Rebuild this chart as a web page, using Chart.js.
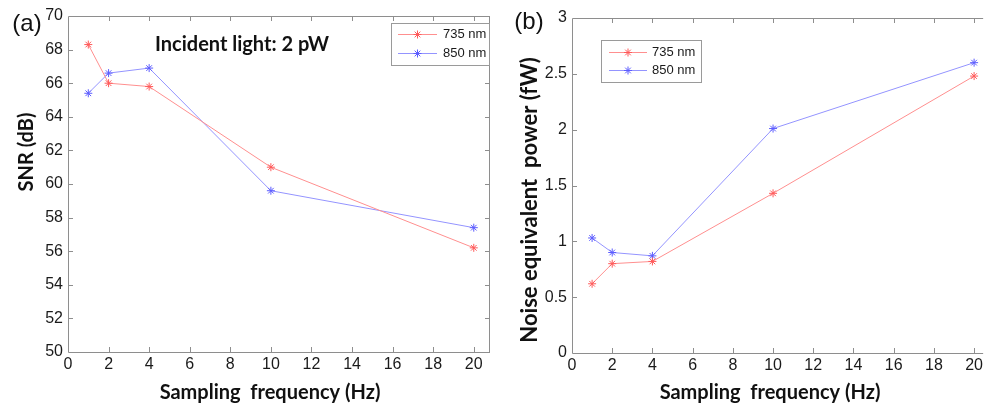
<!DOCTYPE html>
<html>
<head>
<meta charset="utf-8">
<title>SNR and NEP vs sampling frequency</title>
<script src="https://cdn.jsdelivr.net/npm/chart.js"></script>
<style>
  body { margin: 0; background: #fff; }
  #wrap { position: relative; width: 986px; height: 410px; overflow: hidden; }
  #wrap canvas { position: absolute; top: 0; }
</style>
</head>
<body>
<div id="wrap">
  <canvas id="snrChart" width="500" height="410" style="left:0"></canvas>
  <canvas id="nepChart" width="491" height="410" style="left:495px"></canvas>
</div>
<script>
// measured points, both wavelengths
const freqs = [1, 2, 4, 10, 20];
const seriesNames = ['735 nm', '850 nm'];
const snr735 = [68.3, 66.0, 65.8, 61.0, 56.2];
const snr850 = [65.4, 66.6, 66.9, 59.6, 57.4];
const nep735 = [0.62, 0.80, 0.82, 1.43, 2.48];
const nep850 = [1.03, 0.90, 0.87, 2.01, 2.60];

// axis ticks
const freqTicks = [0, 2, 4, 6, 8, 10, 12, 14, 16, 18, 20];
const snrTicks = [50, 52, 54, 56, 58, 60, 62, 64, 66, 68, 70];
const nepTicks = [0, 0.5, 1, 1.5, 2, 2.5, 3];

const RED_LINE = '#ff8f8f', RED_MARK = '#ff5a5a';
const BLUE_LINE = '#9494ff', BLUE_MARK = '#5c5cff';
const AXIS = '#8e8e8e';
const TICK_FONT = { family: 'Liberation Sans, Arial, sans-serif', size: 16 };
const TITLE_FONT = 'bold 20px Lato, Calibri, sans-serif';

function points(ys) {
  return freqs.map((f, i) => ({ x: f, y: ys[i] }));
}

function makeSet(label, ys, line, mark) {
  return {
    label: label,
    data: points(ys),
    borderColor: line,
    borderWidth: 1,
    pointStyle: 'star',
    pointRadius: 4,
    pointBorderColor: mark,
    pointBorderWidth: 1,
    pointBackgroundColor: mark,
    tension: 0
  };
}

// box with inward tick marks (MATLAB style)
const frame = {
  id: 'frame',
  beforeDatasetsDraw(chart, args, opts) {
    const { ctx, chartArea: a, scales } = chart;
    ctx.save();
    ctx.strokeStyle = AXIS;
    ctx.lineWidth = 1;
    ctx.beginPath();
    ctx.moveTo(a.right, a.top + 0.5);
    ctx.lineTo(a.left + 0.5, a.top + 0.5);
    ctx.lineTo(a.left + 0.5, a.bottom + 0.5);
    ctx.lineTo(a.right, a.bottom + 0.5);
    if (opts.right) {
      ctx.moveTo(a.right - 0.5, a.top);
      ctx.lineTo(a.right - 0.5, a.bottom);
    }
    const len = 5;
    scales.x.ticks.forEach(t => {
      const px = Math.round(scales.x.getPixelForValue(t.value)) + 0.5;
      if (px < a.left + 2) return;
      ctx.moveTo(px, a.bottom); ctx.lineTo(px, a.bottom - len);
      ctx.moveTo(px, a.top); ctx.lineTo(px, a.top + len);
    });
    scales.y.ticks.forEach(t => {
      const py = Math.round(scales.y.getPixelForValue(t.value)) + 0.5;
      if (py > a.bottom - 2 || py < a.top + 2) return;
      ctx.moveTo(a.left, py); ctx.lineTo(a.left + len, py);
      if (opts.right) { ctx.moveTo(a.right, py); ctx.lineTo(a.right - len, py); }
    });
    ctx.stroke();
    ctx.restore();
  }
};

function starAt(ctx, x, y, r) {
  const d = r * Math.SQRT1_2;
  ctx.beginPath();
  ctx.moveTo(x - r, y); ctx.lineTo(x + r, y);
  ctx.moveTo(x, y - r); ctx.lineTo(x, y + r);
  ctx.moveTo(x - d, y - d); ctx.lineTo(x + d, y + d);
  ctx.moveTo(x - d, y + d); ctx.lineTo(x + d, y - d);
  ctx.stroke();
}

// boxed legend at a fixed spot inside the axes
const boxLegend = {
  id: 'boxLegend',
  afterDatasetsDraw(chart, args, o) {
    const ctx = chart.ctx;
    ctx.save();
    ctx.fillStyle = '#fff';
    ctx.fillRect(o.x, o.y, o.w, o.h);
    ctx.strokeStyle = '#9a9a9a';
    ctx.lineWidth = 1;
    ctx.strokeRect(o.x + 0.5, o.y + 0.5, o.w, o.h);
    ctx.font = '13px Liberation Sans, Arial, sans-serif';
    ctx.textBaseline = 'middle';
    ctx.textAlign = 'left';
    chart.data.datasets.forEach((ds, i) => {
      const y = o.rows[i] + 0.5;
      ctx.strokeStyle = ds.borderColor;
      ctx.beginPath();
      ctx.moveTo(o.lineX0, y);
      ctx.lineTo(o.lineX1, y);
      ctx.stroke();
      ctx.strokeStyle = ds.pointBorderColor;
      starAt(ctx, (o.lineX0 + o.lineX1) / 2, y, 4);
      ctx.fillStyle = '#1a1a1a';
      ctx.fillText(ds.label, o.textX, y);
    });
    ctx.restore();
  }
};

// panel letters, axis titles and the note
const annot = {
  id: 'annot',
  afterDraw(chart, args, o) {
    const ctx = chart.ctx;
    o.items.forEach(it => {
      ctx.save();
      ctx.font = it.font;
      ctx.fillStyle = '#111';
      ctx.textAlign = it.align || 'center';
      ctx.textBaseline = 'middle';
      ctx.translate(it.x, it.y);
      if (it.rotate) ctx.rotate(it.rotate);
      ctx.fillText(it.text, 0, 0);
      ctx.restore();
    });
  }
};

function makeChart(id, sets, xMax, yMin, yMax, yTicks, yWidth, xHeight, padTop, padRight, extra) {
  return new Chart(document.getElementById(id), {
    type: 'line',
    data: { datasets: sets },
    plugins: [frame, boxLegend, annot],
    options: {
      responsive: false,
      animation: false,
      devicePixelRatio: 1,
      layout: { autoPadding: false, padding: { top: padTop, right: padRight, left: 0, bottom: 0 } },
      scales: {
        x: {
          type: 'linear', min: 0, max: xMax,
          grid: { display: false, drawTicks: false },
          border: { display: false },
          afterBuildTicks: s => { s.ticks = freqTicks.map(v => ({ value: v })); },
          afterFit: s => { s.height = xHeight; },
          ticks: { font: TICK_FONT, color: '#1a1a1a', padding: 3, maxRotation: 0, autoSkip: false, callback: v => String(v) }
        },
        y: {
          type: 'linear', min: yMin, max: yMax,
          grid: { display: false, drawTicks: false },
          border: { display: false },
          afterBuildTicks: s => { s.ticks = yTicks.map(v => ({ value: v })); },
          afterFit: s => { s.width = yWidth; },
          ticks: { font: TICK_FONT, color: '#1a1a1a', padding: 5, autoSkip: false, callback: v => String(v) }
        }
      },
      plugins: Object.assign({ legend: { display: false }, tooltip: { enabled: false } }, extra)
    }
  });
}

makeChart('snrChart',
  [makeSet(seriesNames[0], snr735, RED_LINE, RED_MARK), makeSet(seriesNames[1], snr850, BLUE_LINE, BLUE_MARK)],
  20.8, 50, 70, snrTicks, 68, 58, 16, 10,
  {
    frame: { right: true },
    boxLegend: { x: 391, y: 23, w: 98, h: 42, rows: [34, 53], lineX0: 398, lineX1: 437, textX: 443 },
    annot: { items: [
      { text: '(a)', x: 27, y: 24, font: '24px Liberation Sans, Arial, sans-serif' },
      { text: 'Incident light: 2 pW', x: 155, y: 45, align: 'left', font: TITLE_FONT },
      { text: 'SNR (dB)', x: 27, y: 152, rotate: -Math.PI / 2, font: TITLE_FONT },
      { text: 'Sampling  frequency (Hz)', x: 270, y: 393, font: TITLE_FONT }
    ] }
  });

makeChart('nepChart',
  [makeSet(seriesNames[0], nep735, RED_LINE, RED_MARK), makeSet(seriesNames[1], nep850, BLUE_LINE, BLUE_MARK)],
  20.45, 0, 3, nepTicks, 77, 57, 18, 0,
  {
    frame: { right: false },
    boxLegend: { x: 106, y: 40, w: 100, h: 42, rows: [52, 70], lineX0: 114, lineX1: 152, textX: 157 },
    annot: { items: [
      { text: '(b)', x: 34, y: 22, font: '24px Liberation Sans, Arial, sans-serif' },
      { text: 'Noise equivalent  power (fW)', x: 35, y: 200, rotate: -Math.PI / 2, font: 'bold 22px Lato, Calibri, sans-serif' },
      { text: 'Sampling  frequency (Hz)', x: 275, y: 393, font: TITLE_FONT }
    ] }
  });
</script>
</body>
</html>
